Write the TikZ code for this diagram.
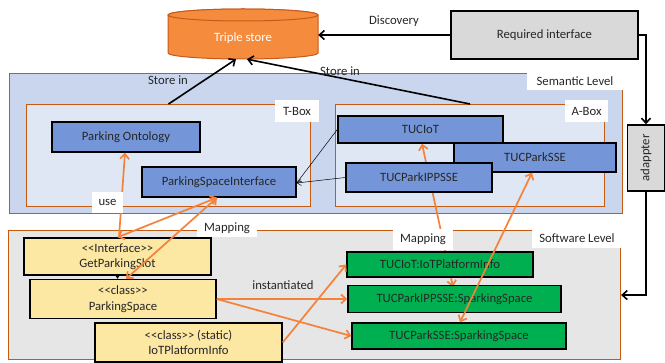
\documentclass[tikz,border=0pt]{standalone}
\usepackage{fontspec}
\setmainfont{Carlito}
\usetikzlibrary{arrows.meta}
\pgfdeclarelayer{back}
\pgfdeclarelayer{under}
\pgfsetlayers{back,under,main}

\definecolor{txt}{HTML}{262626}
\definecolor{lvl}{HTML}{C55A11}
\definecolor{semfill}{HTML}{C9D6EE}
\definecolor{boxfill}{HTML}{DFE6F4}
\definecolor{swfill}{HTML}{E6E6E6}
\definecolor{bluenode}{HTML}{7496D8}
\definecolor{yel}{HTML}{FCE7A3}
\definecolor{grn}{HTML}{00B050}
\definecolor{org}{HTML}{F5823A}
\definecolor{cyl}{HTML}{F58B3C}
\definecolor{cylb}{HTML}{C65A1A}
\definecolor{gry}{HTML}{D9D9D9}

\newcommand\stopen{<\kern0pt<}
\newcommand\stclose{>\kern0pt>}

\begin{document}
\begin{tikzpicture}[x=1pt,y=-1pt,
  every node/.style={font=\fontsize{12.7}{15.5}\selectfont, text=txt, inner sep=0pt, align=center},
  level/.style={draw=lvl, line width=1.1pt, anchor=north west},
  tag/.style={fill=white},
  bluebox/.style={draw=black, line width=1.4pt, fill=bluenode},
  yelbox/.style={draw=black, line width=1.4pt, fill=yel},
  grnbox/.style={draw=black, line width=1.4pt, fill=grn},
  grybox/.style={draw=black, line width=1.4pt, fill=gry},
  tip/.tip={Straight Barb[length=5pt,width=9pt]},
  blk/.style={line width=1.6pt, -tip},
  thinarr/.style={line width=0.5pt, -{Straight Barb[length=4pt,width=6pt]}},
  org/.style={draw=org, line width=1.7pt, -tip},
  orgboth/.style={draw=org, line width=1.7pt, tip-tip}]
\useasboundingbox (0,0) rectangle (665,363);

% --- level frames ---
\begin{pgfonlayer}{back}
\node[level, fill=semfill, minimum width=613pt, minimum height=140pt] (sem) at (9,73) {};
\node[level, fill=boxfill, minimum width=284pt, minimum height=102pt] (tbox) at (26,104) {};
\node[level, fill=boxfill, minimum width=269pt, minimum height=102pt] (abox) at (335,104) {};
\node[level, fill=swfill, minimum width=612pt, minimum height=129pt] (sw) at (8,230) {};
\end{pgfonlayer}

% --- triple store cylinder ---
\node[minimum width=150pt, minimum height=50pt] (store) at (243,34) {};
\draw[fill=cyl, draw=cylb, line width=1pt]
  (168,15) -- (168,53) arc[start angle=180, end angle=360, x radius=75pt, y radius=6pt]
  -- (318,15) arc[start angle=0, end angle=180, x radius=75pt, y radius=6pt] -- cycle;
\draw[fill=cyl, draw=cylb, line width=1pt] (243,15) ellipse[x radius=75pt, y radius=6pt];
\node[text=white] (storetxt) at (243,38) {Triple store};

% --- external boxes ---
\node[grybox, minimum width=187pt, minimum height=48pt] (req) at (544.5,35) {Required interface};
\node[grybox, minimum width=37pt, minimum height=66pt] (adapter) at (646,158) {};
\node[rotate=90] (adaptertxt) at (adapter.center) {adappter};

% --- semantic nodes ---
\node[bluebox, minimum width=148pt, minimum height=30pt] (onto) at (126,137) {Parking Ontology};
\node[bluebox, minimum width=154pt, minimum height=30pt] (psi) at (219,182) {ParkingSpaceInterface};
\node[bluebox, minimum width=165pt, minimum height=27pt] (tuciot) at (420.5,129.5) {TUCIoT};
\node[bluebox, minimum width=162pt, minimum height=29pt] (tucsse) at (535,157.5) {TUCParkSSE};
\node[bluebox, minimum width=146pt, minimum height=29pt] (tucipp) at (419,177.5) {TUCParkIPPSSE};

% --- software nodes ---
\node[yelbox, minimum width=187pt, minimum height=37pt] (gps) at (117.5,256.5) {\stopen Interface\stclose\\GetParkingSlot};
\node[yelbox, minimum width=186pt, minimum height=39pt] (pspace) at (123,299) {\stopen class\stclose\\ParkingSpace};
\node[yelbox, minimum width=187pt, minimum height=39pt] (iotpi) at (188.5,342.5) {\stopen class\stclose{} (static)\\IoTPlatformInfo};
\node[grnbox, minimum width=186pt, minimum height=25pt] (g1) at (440,264.5) {TUCIoT:IoTPlatformInfo};
\node[grnbox, minimum width=213pt, minimum height=27pt] (g2) at (454.5,299) {TUCParkIPPSSE:SparkingSpace};
\node[grnbox, minimum width=214pt, minimum height=26pt] (g3) at (459,336) {TUCParkSSE:SparkingSpace};

% --- black connectors ---
\draw[blk] (tbox.north) -- ([xshift=-7pt]store.south);
\draw[blk] (abox.north) -- ([xshift=4pt]store.south);
\draw[blk] (req.west) -- (req.west -| store.east);
\draw[blk] (req.east) -| (adapter.north);
\draw[blk] (adapter.south) |- (sw.east);
\draw[thinarr] (tuciot.west) -- ([yshift=-1pt]psi.east);
\draw[thinarr] (tucipp.west) -- ([yshift=-1pt]psi.east);
\draw[line width=1pt, -{Stealth[length=4pt,width=5pt]}] (gps.south) -- (gps.south |- pspace.north);

% --- mapping connectors ---
\begin{pgfonlayer}{under}
\draw[orgboth] ([xshift=1.5pt]tuciot.south) -- ([xshift=-1.5pt,yshift=-2pt]g2.north);
\end{pgfonlayer}
\draw[org] ([xshift=1.5pt]gps.north) -- ([xshift=-1pt]onto.south);
\draw[orgboth] ([xshift=-2pt]psi.south) -- (gps.north);
\draw[orgboth] ([xshift=-2pt]psi.south) -- ([xshift=3pt]pspace.north);
\draw[orgboth] ([xshift=-3pt]tucsse.south) -- ([xshift=1pt]g3.north);
\draw[org] (pspace.east) -- (g2.west);
\draw[org] (pspace.east) -- (g3.west);
\draw[org] (iotpi.east) -- (g1.west);

% --- labels ---
\node[tag, minimum width=96pt, minimum height=19pt] (semtag) at (575,81) {Semantic Level};
\node[tag, minimum width=44pt, minimum height=22pt] (ttag) at (297,111) {T-Box};
\node[tag, minimum width=43pt, minimum height=22pt] (atag) at (586.5,111) {A-Box};
\node[tag, minimum width=90pt, minimum height=20pt] (swtag) at (577,238) {Software Level};
\node[tag, minimum width=60pt, minimum height=18pt] (map1) at (227,228) {Mapping};
\node[tag, minimum width=60pt, minimum height=21pt] (map2) at (423,239.5) {Mapping};
\node[tag, minimum width=31pt, minimum height=21pt] (use) at (107.5,202.5) {use};
\node (store1) at (168,80) {Store in};
\node (store2) at (340,71) {Store in};
\node (disc) at (394,21) {Discovery};
\node (inst) at (283,285) {instantiated};
\end{tikzpicture}
\end{document}
